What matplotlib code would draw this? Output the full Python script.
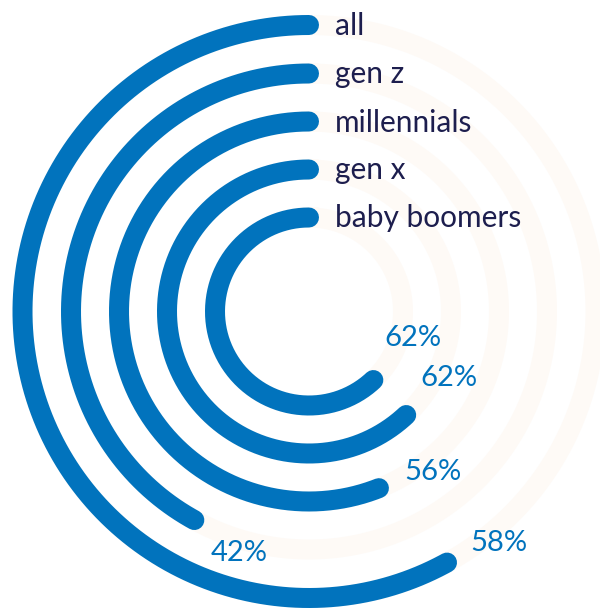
import numpy as np
import matplotlib
matplotlib.use("Agg")
import matplotlib.pyplot as plt

# data, outer ring first
groups = ["all", "gen z", "millennials", "gen x", "baby boomers"]
values = [58, 42, 56, 62, 62]
pct_labels = ["58%", "42%", "56%", "62%", "62%"]

blue = "#0173bd"
track = "#fefaf6"
navy = "#1d1e4e"

W, H, dpi = 600, 608, 100
fig = plt.figure(figsize=(W / dpi, H / dpi), dpi=dpi)
fig.patch.set_facecolor("white")

# polar axes centred on the rings, radius in pixels
cx, cy = 309, H - 311.5
R = 320
ax = fig.add_axes([(cx - R) / W, (cy - R) / H, 2 * R / W, 2 * R / H], projection="polar")
ax.set_theta_zero_location("N")
ax.set_theta_direction(1)
ax.set_rlim(0, R)
ax.axis("off")

radii = [286.5, 238, 190, 142, 94]
lw = 20 * 72 / dpi  # 20 px strokes

for name, v, lab, r in zip(groups, values, pct_labels, radii):
    full = np.linspace(0, 2 * np.pi, 400)
    ax.plot(full, np.full_like(full, r), color=track, lw=lw, zorder=1)
    end = v / 100 * 2 * np.pi
    th = np.linspace(0, end, 300)
    ax.plot(th, np.full_like(th, r), color=blue, lw=lw,
            solid_capstyle="round", zorder=2)
    ax.annotate(name, xy=(0, r), xytext=(26, -1), textcoords="offset pixels",
                ha="left", va="center", fontsize=21.5, color=navy,
                family="Lato", zorder=3)
    # percent label just past the end of the arc
    t = end + 53 / r
    ax.text(t, r + 13, lab, ha="center", va="center", fontsize=21,
            color=blue, family="Lato", zorder=3)

fig.savefig("out.png", dpi=dpi, facecolor="white")
